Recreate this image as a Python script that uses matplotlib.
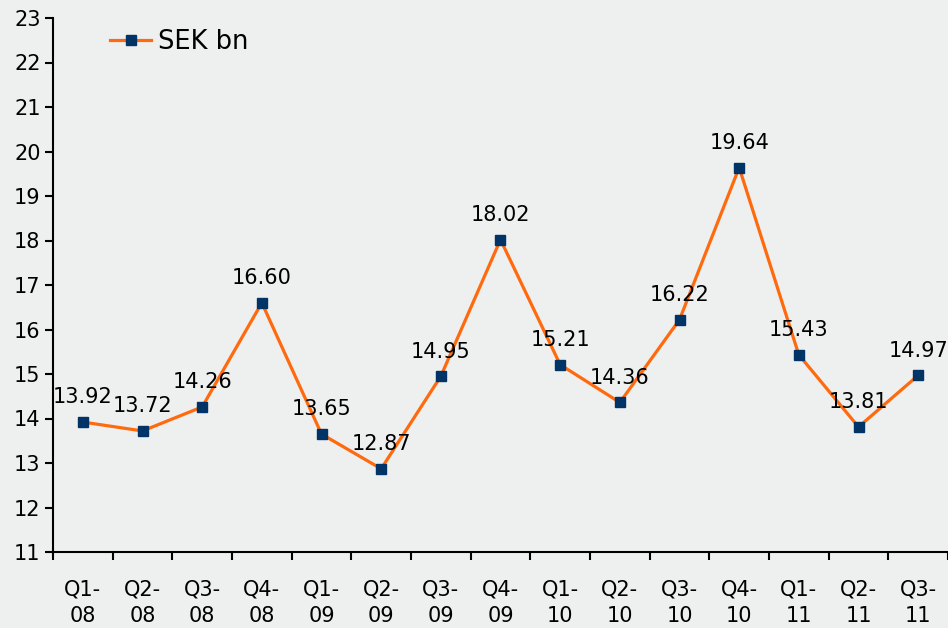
import matplotlib
matplotlib.use("Agg")
import matplotlib.pyplot as plt
import numpy as np

categories = ["Q1-\n08", "Q2-\n08", "Q3-\n08", "Q4-\n08", "Q1-\n09", "Q2-\n09", "Q3-\n09",
              "Q4-\n09", "Q1-\n10", "Q2-\n10", "Q3-\n10", "Q4-\n10", "Q1-\n11", "Q2-\n11", "Q3-\n11"]
values = [13.92, 13.72, 14.26, 16.60, 13.65, 12.87, 14.95, 18.02, 15.21, 14.36, 16.22, 19.64, 15.43, 13.81, 14.97]
series_name = "SEK bn"

plt.rcParams["font.family"] = ["DejaVu Sans"]

bg = "#EEF0EF"
fig = plt.figure(figsize=(9.48, 6.28), dpi=100, facecolor=bg)
W, H = 948, 628
ax = fig.add_axes([53 / W, (H - 552) / H, 895 / W, 534 / H])
ax.set_facecolor(bg)

x = np.arange(len(values))
ax.plot(x, values, color="#FF6A0F", lw=2.3, marker="s", markersize=7,
        markerfacecolor="#003366", markeredgecolor="#003366", label=series_name, zorder=3)

lab_size = 15
for xi, v in zip(x, values):
    ax.annotate(f"{v:.2f}", (xi, v), xytext=(0, 10.5), textcoords="offset points",
                ha="center", va="bottom", fontsize=lab_size, color="black")

ax.set_xlim(-0.5, len(values) - 0.5)
ax.set_ylim(11, 23)
ax.set_yticks(range(11, 24))
ax.set_xticks(x)
ax.set_xticklabels(categories, fontsize=lab_size, linespacing=1.4)
ax.set_xticks(np.arange(-0.5, len(values), 1.0), minor=True)
ax.tick_params(axis="x", which="major", length=0, pad=20)
ax.tick_params(axis="x", which="minor", length=6, width=1.5, direction="out")
ax.tick_params(axis="y", labelsize=lab_size, length=6, width=1.5, pad=3)

for s in ["top", "right"]:
    ax.spines[s].set_visible(False)
for s in ["left", "bottom"]:
    ax.spines[s].set_linewidth(1.5)

leg = ax.legend(loc="center left", bbox_to_anchor=((110 - 53) / 895, (552 - 42) / 534),
                frameon=False, fontsize=18.5, handlelength=1.6, handletextpad=0.25,
                borderpad=0, borderaxespad=0)

fig.savefig("out.png", dpi=100, facecolor=bg)
